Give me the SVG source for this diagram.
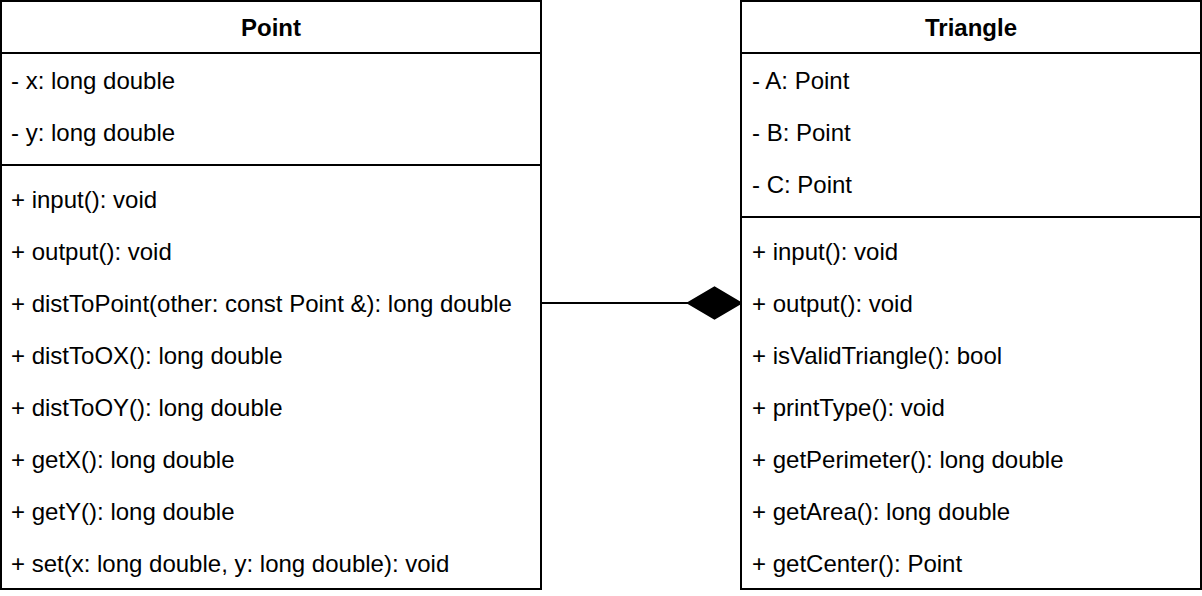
<svg xmlns="http://www.w3.org/2000/svg" width="1202" height="596" viewBox="0 0 1202 596">
<style>
.box{fill:#fff;stroke:#000;stroke-width:2}
.sep{stroke:#000;stroke-width:2;fill:none}
.t{font-family:"Liberation Sans",Arial,sans-serif;font-size:24px;fill:#000}
.h{font-family:"Liberation Sans",Arial,sans-serif;font-size:24px;font-weight:bold;fill:#000;text-anchor:middle}
.conn{stroke:#000;stroke-width:2;fill:none}
</style>
<rect width="1202" height="596" fill="#fff"/>
<g id="connectors">
<line class="conn" x1="541" y1="303" x2="688" y2="303"/>
<polygon points="741,303 714.5,287.5 688,303 714.5,318.5" fill="#000" stroke="#000" stroke-width="2"/>
</g>
<g id="Point">
<rect class="box" x="1" y="1" width="540" height="588"/>
<line class="sep" x1="1" y1="53" x2="541" y2="53"/>
<line class="sep" x1="1" y1="165" x2="541" y2="165"/>
<text class="h" x="271" y="36">Point</text>
<text class="t" x="11" y="89">- x: long double</text>
<text class="t" x="11" y="141">- y: long double</text>
<text class="t" x="11" y="208">+ input(): void</text>
<text class="t" x="11" y="260">+ output(): void</text>
<text class="t" x="11" y="312">+ distToPoint(other: const Point &amp;): long double</text>
<text class="t" x="11" y="364">+ distToOX(): long double</text>
<text class="t" x="11" y="416">+ distToOY(): long double</text>
<text class="t" x="11" y="468">+ getX(): long double</text>
<text class="t" x="11" y="520">+ getY(): long double</text>
<text class="t" x="11" y="572">+ set(x: long double, y: long double): void</text>
</g>
<g id="Triangle">
<rect class="box" x="741" y="1" width="460" height="588"/>
<line class="sep" x1="741" y1="53" x2="1201" y2="53"/>
<line class="sep" x1="741" y1="217" x2="1201" y2="217"/>
<text class="h" x="971" y="36">Triangle</text>
<text class="t" x="752" y="89">- A: Point</text>
<text class="t" x="752" y="141">- B: Point</text>
<text class="t" x="752" y="193">- C: Point</text>
<text class="t" x="752" y="260">+ input(): void</text>
<text class="t" x="752" y="312">+ output(): void</text>
<text class="t" x="752" y="364">+ isValidTriangle(): bool</text>
<text class="t" x="752" y="416">+ printType(): void</text>
<text class="t" x="752" y="468">+ getPerimeter(): long double</text>
<text class="t" x="752" y="520">+ getArea(): long double</text>
<text class="t" x="752" y="572">+ getCenter(): Point</text>
</g>
</svg>
